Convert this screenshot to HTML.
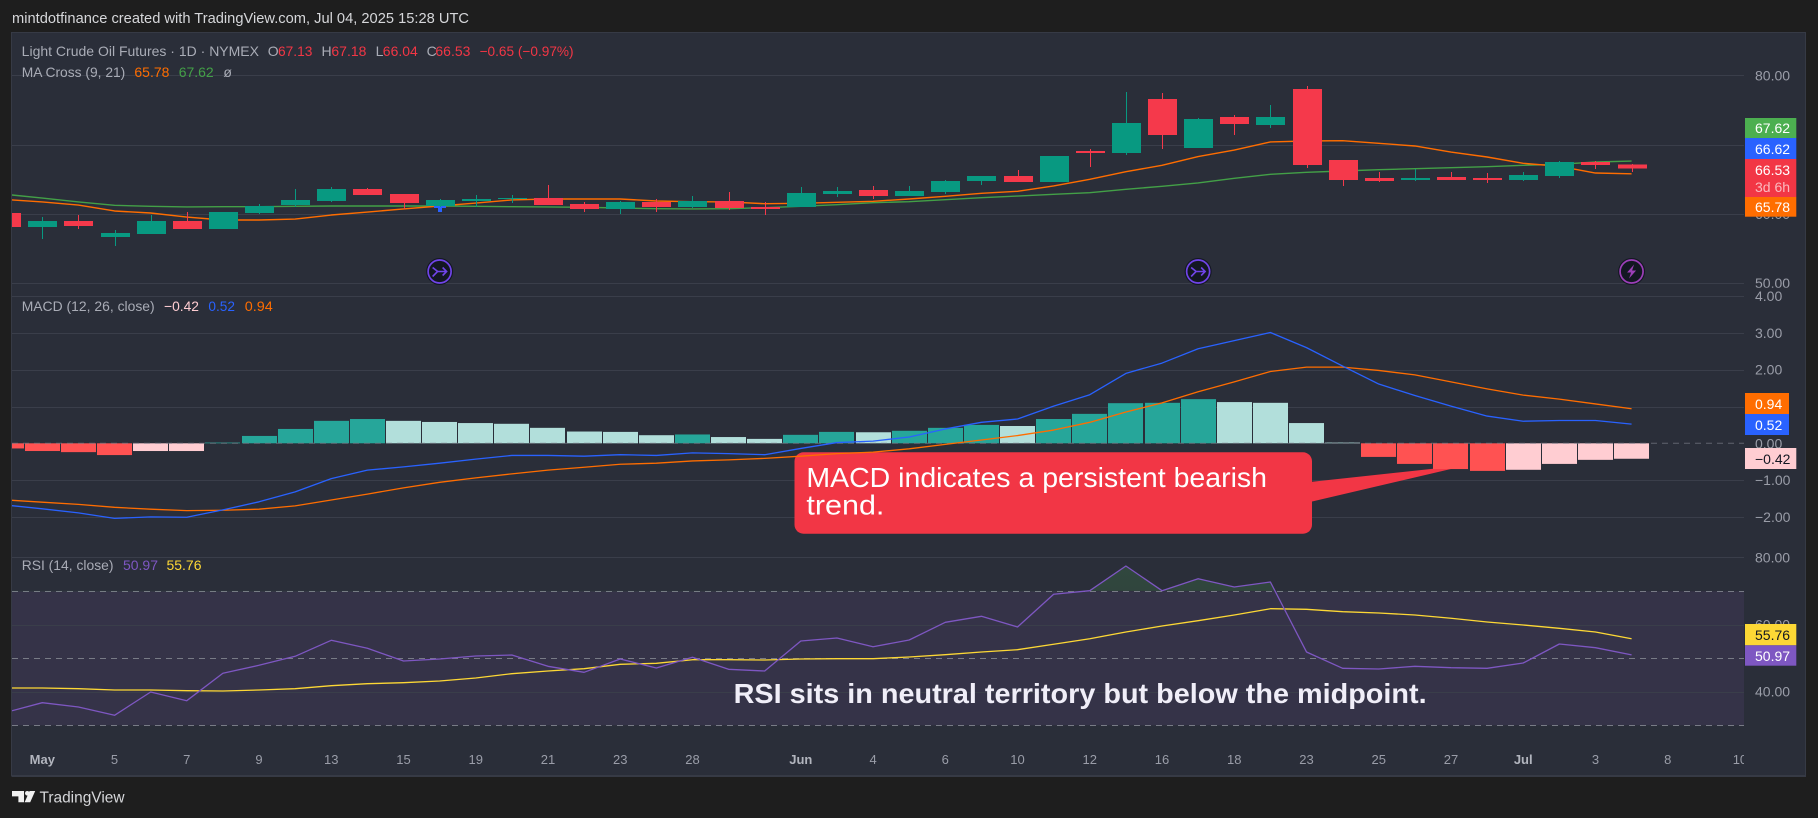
<!DOCTYPE html>
<html lang="en">
<head>
<meta charset="utf-8">
<title>Light Crude Oil Futures chart</title>
<style>
html,body{margin:0;padding:0;background:#1e1e1e;}
svg{display:block;font-family:"Liberation Sans",sans-serif;}
</style>
</head>
<body>
<svg id="chart" xmlns="http://www.w3.org/2000/svg" width="1818" height="818" viewBox="0 0 1818 818">
  <defs>
    <clipPath id="clip-main"><rect x="12" y="33" width="1732" height="263"/></clipPath>
    <clipPath id="clip-macd"><rect x="12" y="296" width="1732" height="261"/></clipPath>
    <clipPath id="clip-rsi"><rect x="12" y="557" width="1732" height="180"/></clipPath>
    <clipPath id="clip-ob"><rect x="12" y="557" width="1732" height="34.3"/></clipPath>
    <clipPath id="clip-time"><rect x="12" y="740" width="1732" height="34"/></clipPath>
    <clipPath id="clip-main-ticks"><rect x="1745" y="33" width="60" height="254.7"/></clipPath>
    <linearGradient id="ob-gradient" x1="0" y1="0" x2="0" y2="1">
      <stop offset="0" stop-color="#4caf50" stop-opacity="0.2"/>
      <stop offset="1" stop-color="#4caf50" stop-opacity="0.06"/>
    </linearGradient>
  </defs>

  <rect x="0" y="0" width="1818" height="818" fill="#1e1e1e"/>
  <text x="12" y="23" font-size="14.5" fill="#d6d7da" textLength="457" lengthAdjust="spacingAndGlyphs">mintdotfinance created with TradingView.com, Jul 04, 2025 15:28 UTC</text>

  <rect x="11.5" y="32.5" width="1794" height="743.5" fill="#2a2e39" stroke="#363a45" stroke-width="1"/>
  <rect x="12" y="775" width="1794" height="2" fill="#363a45"/>

  <!-- RSI band sits behind grid lines -->
  <rect x="12" y="591.3" width="1732" height="134" fill="#353348"/>

  <g id="grid-layer"></g>

  <g id="main-pane" clip-path="url(#clip-main)"></g>

  <g id="annotation-macd">
    <path d="M1310 482 L1468 465 L1310 502 Z" fill="#f23645"/>
    <rect x="794.5" y="452.3" width="517.5" height="81.4" rx="9" fill="#f23645"/>
    <text x="806.4" y="487" font-size="28" fill="#ffffff" textLength="460.6" lengthAdjust="spacingAndGlyphs">MACD indicates a persistent bearish</text>
    <text x="806.4" y="514.5" font-size="28" fill="#ffffff" textLength="78" lengthAdjust="spacingAndGlyphs">trend.</text>
  </g>

  <g id="macd-pane" clip-path="url(#clip-macd)"></g>
  <g id="rsi-pane" clip-path="url(#clip-rsi)"></g>

  <text x="733.6" y="703" font-size="28" font-weight="bold" fill="#f0eef8" textLength="693" lengthAdjust="spacingAndGlyphs">RSI sits in neutral territory but below the midpoint.</text>

  <g id="events-layer"></g>

  <!-- Legends -->
  <g font-size="14">
    <text x="21.7" y="56" fill="#a9acb6" textLength="237.3" lengthAdjust="spacingAndGlyphs">Light Crude Oil Futures · 1D · NYMEX</text>
    <text x="267.7" y="56" fill="#a9acb6">O</text>
    <text x="278" y="56" fill="#f23645" textLength="34.4" lengthAdjust="spacingAndGlyphs">67.13</text>
    <text x="321.5" y="56" fill="#a9acb6">H</text>
    <text x="331.4" y="56" fill="#f23645" textLength="35" lengthAdjust="spacingAndGlyphs">67.18</text>
    <text x="375.6" y="56" fill="#a9acb6">L</text>
    <text x="382.8" y="56" fill="#f23645" textLength="35" lengthAdjust="spacingAndGlyphs">66.04</text>
    <text x="426.6" y="56" fill="#a9acb6">C</text>
    <text x="435.4" y="56" fill="#f23645" textLength="35" lengthAdjust="spacingAndGlyphs">66.53</text>
    <text x="479.6" y="56" fill="#f23645" textLength="94" lengthAdjust="spacingAndGlyphs">−0.65 (−0.97%)</text>
  </g>
  <g font-size="14">
    <text x="21.7" y="77" fill="#a9acb6" textLength="103.6" lengthAdjust="spacingAndGlyphs">MA Cross (9, 21)</text>
    <text x="134.4" y="77" fill="#ff6d00" textLength="35" lengthAdjust="spacingAndGlyphs">65.78</text>
    <text x="178.7" y="77" fill="#43a047" textLength="35" lengthAdjust="spacingAndGlyphs">67.62</text>
    <text x="223.4" y="77" fill="#a9acb6">ø</text>
  </g>
  <g font-size="14">
    <text x="21.7" y="311" fill="#a9acb6" textLength="133" lengthAdjust="spacingAndGlyphs">MACD (12, 26, close)</text>
    <text x="164" y="311" fill="#ffcdd2" textLength="35" lengthAdjust="spacingAndGlyphs">−0.42</text>
    <text x="208.4" y="311" fill="#2962ff" textLength="26.6" lengthAdjust="spacingAndGlyphs">0.52</text>
    <text x="244.8" y="311" fill="#ff6d00" textLength="28" lengthAdjust="spacingAndGlyphs">0.94</text>
  </g>
  <g font-size="14">
    <text x="21.7" y="570" fill="#a9acb6" textLength="91.8" lengthAdjust="spacingAndGlyphs">RSI (14, close)</text>
    <text x="123" y="570" fill="#7e57c2" textLength="35" lengthAdjust="spacingAndGlyphs">50.97</text>
    <text x="166.5" y="570" fill="#fdd835" textLength="35" lengthAdjust="spacingAndGlyphs">55.76</text>
  </g>

  <g id="price-axis"></g>
  <g id="time-axis" clip-path="url(#clip-time)"></g>

  <!-- Last-value tags on the axes -->
  <g font-size="14">
    <rect x="1745" y="118" width="51.3" height="20" fill="#4caf50"/>
    <text x="1755" y="133" fill="#ffffff">67.62</text>
    <rect x="1745" y="138" width="51.3" height="21" fill="#2962ff"/>
    <text x="1755" y="154" fill="#ffffff">66.62</text>
    <rect x="1745" y="159" width="51.3" height="38" fill="#f23645"/>
    <text x="1755" y="175" fill="#ffffff">66.53</text>
    <text x="1755" y="192" fill="#ffffff" fill-opacity="0.65">3d 6h</text>
    <rect x="1745" y="197" width="51.3" height="19.7" fill="#ff6d00"/>
    <text x="1755" y="212" fill="#ffffff">65.78</text>

    <rect x="1745" y="393" width="44" height="21" fill="#ff6d00"/>
    <text x="1755" y="409" fill="#ffffff">0.94</text>
    <rect x="1745" y="414" width="44" height="21" fill="#2962ff"/>
    <text x="1755" y="430" fill="#ffffff">0.52</text>
    <rect x="1745" y="448" width="51.3" height="21" fill="#ffcdd2"/>
    <text x="1755" y="464" fill="#131722">−0.42</text>

    <rect x="1745" y="624" width="51.3" height="21.3" fill="#fdd835"/>
    <text x="1755" y="640" fill="#131722">55.76</text>
    <rect x="1745" y="645.3" width="51.3" height="20.4" fill="#7e57c2"/>
    <text x="1755" y="661" fill="#ffffff">50.97</text>
  </g>

  <!-- Footer logo -->
  <g>
    <path fill="#f0f0f0" d="M12 791H24V802.3H18.4V796.4H12Z M35.2 791L30.2 802.3H24.6L29.6 791Z"/>
    <circle cx="27.3" cy="793.3" r="2.3" fill="#f0f0f0"/>
    <text x="39.5" y="802.5" font-size="16" fill="#d6d7da" textLength="85" lengthAdjust="spacingAndGlyphs">TradingView</text>
  </g>
</svg>

<script>
/* ---- price data ---- */
const opens = [60.13,58.11,58.98,56.67,57.10,58.98,57.82,60.13,61.28,61.86,63.59,62.87,61.14,61.86,62.15,62.29,61.43,60.71,61.72,61.00,61.86,61.00,61.00,62.87,63.45,62.58,63.16,64.75,65.47,64.60,69.08,68.79,76.58,69.51,73.98,72.83,78.02,67.78,65.18,64.89,65.32,65.18,64.89,65.47,67.49,67.13];
const highs = [60.40,59.55,59.84,57.68,59.84,60.27,60.27,61.43,63.59,63.88,63.74,62.87,62.15,62.73,62.73,64.17,61.72,61.86,62.15,62.58,63.16,61.72,63.88,63.88,64.03,64.03,64.89,65.47,66.34,68.35,69.37,77.59,77.45,73.84,74.27,75.71,78.46,67.78,66.05,66.48,66.05,65.90,66.05,67.63,67.63,67.18];
const lows = [58.00,56.38,57.82,55.37,57.10,57.82,57.82,59.99,61.00,61.72,62.73,60.71,61.00,61.00,61.57,61.28,60.27,59.99,60.27,60.85,60.56,59.84,61.00,62.44,62.15,62.58,62.87,64.17,64.60,64.60,66.77,68.50,69.37,69.51,71.39,72.40,66.62,64.03,64.60,64.75,64.89,64.46,64.75,65.18,66.48,66.04];
const closes = [58.11,58.98,58.26,57.24,58.98,57.82,60.27,61.14,62.01,63.59,62.73,61.57,62.01,62.15,62.29,61.28,60.71,61.72,61.00,61.86,60.85,60.71,63.02,63.30,62.58,63.30,64.75,65.47,64.60,68.35,68.79,73.12,71.39,73.69,72.97,73.98,67.06,64.89,64.75,65.18,64.89,64.89,65.61,67.49,67.06,66.53];
const maFast = [62.08,61.72,61.28,60.42,60.13,59.55,59.12,59.12,59.26,59.84,60.27,60.71,61.14,61.57,62.01,62.15,62.15,62.15,61.86,61.76,61.72,61.47,61.53,61.67,61.82,62.15,62.54,62.97,63.26,64.03,64.99,66.09,67.01,68.28,69.22,70.38,70.52,70.56,70.19,69.80,68.93,68.21,67.30,66.87,65.90,65.78];
const maSlow = [62.81,62.29,61.72,61.24,61.10,61.00,61.04,61.04,61.10,61.14,61.14,61.14,61.14,61.10,61.04,61.00,60.95,60.85,60.75,60.71,60.75,60.90,61.10,61.33,61.62,61.76,62.05,62.34,62.58,62.83,63.06,63.55,63.98,64.46,65.14,65.71,66.00,66.19,66.38,66.52,66.67,66.81,67.01,67.16,67.49,67.62];
const crossBars = [12];
const crossPrices = [61.14];
const mergeEventBars = [12,33];
const boltEventBars = [45];

/* ---- MACD data ---- */
const macdHistogram = [-0.14,-0.21,-0.24,-0.32,-0.21,-0.21,0.02,0.20,0.39,0.61,0.66,0.61,0.58,0.55,0.53,0.42,0.32,0.31,0.22,0.24,0.17,0.12,0.23,0.31,0.30,0.34,0.42,0.50,0.47,0.66,0.80,1.09,1.10,1.20,1.12,1.10,0.55,0.02,-0.37,-0.56,-0.70,-0.75,-0.72,-0.56,-0.45,-0.42];
const macdLine = [-1.68,-1.78,-1.89,-2.04,-2.00,-2.01,-1.81,-1.59,-1.32,-0.96,-0.73,-0.64,-0.54,-0.43,-0.33,-0.33,-0.35,-0.31,-0.33,-0.26,-0.28,-0.31,-0.14,0.02,0.06,0.17,0.39,0.57,0.66,1.01,1.32,1.90,2.18,2.57,2.79,3.01,2.60,2.10,1.61,1.30,1.01,0.74,0.60,0.62,0.62,0.52];
const macdSignal = [-1.54,-1.60,-1.66,-1.74,-1.79,-1.83,-1.82,-1.79,-1.70,-1.54,-1.38,-1.21,-1.06,-0.94,-0.83,-0.73,-0.65,-0.57,-0.54,-0.48,-0.45,-0.41,-0.35,-0.28,-0.24,-0.15,-0.03,0.09,0.21,0.36,0.57,0.85,1.10,1.40,1.67,1.95,2.07,2.07,1.98,1.86,1.67,1.48,1.31,1.20,1.07,0.94];

/* ---- RSI data ---- */
const rsiLine = [33.87,36.73,35.45,32.98,39.91,37.32,45.48,47.86,50.54,55.30,52.92,49.14,49.73,50.62,50.92,47.56,45.77,49.73,47.05,50.24,46.67,46.16,55.09,55.98,53.39,55.39,60.65,62.44,59.26,68.99,70.06,77.41,70.06,73.63,71.16,72.65,51.82,46.96,46.76,47.56,47.14,46.96,48.54,54.20,53.10,50.97];
const rsiMa = [41.10,41.10,40.89,40.51,40.51,40.30,40.21,40.51,40.89,41.79,42.38,42.68,43.18,44.08,45.36,46.16,46.85,48.15,48.45,49.52,49.52,49.43,49.73,49.82,49.82,50.33,51.01,51.82,52.50,54.11,55.77,57.77,59.55,61.13,62.83,64.70,64.52,63.81,63.42,62.83,61.85,60.74,59.85,58.87,57.77,55.76];

/* ---- tick labels ---- */
const priceTicks = [80,70,60,50];
const macdTicks = [4,3,2,1,0,-1,-2];
const rsiSolidTicks = [80,60,40];
const rsiDashedLevels = [70,50,30];
const timeLabels = ["May","5","7","9","13","15","19","21","23","28","Jun","4","6","10","12","16","18","23","25","27","Jul","3","8","10"];
const timeBars = [1,3,5,7,9,11,13,15,17,19,22,24,26,28,30,32,34,36,38,40,42,44,46,48];

/* ---- axis functions ---- */
const NS = 'http://www.w3.org/2000/svg';
const xBar = i => 6.18 + 36.12 * i;
const yPrice = p => 75.3 + (80 - p) * 6.93;
const yMacd = v => 443.3 - 36.8 * v;
const yRsi = v => 557.3 + (80 - v) * 3.36;
const fmtTick = v => (v < 0 ? '\u2212' : '') + Math.abs(v).toFixed(2);
const GRID = '#3a3e4a';
const mk = tag => document.createElementNS(NS, tag);
const pts = (arr, yFn) => arr.map((v, i) => xBar(i).toFixed(2) + ',' + yFn(v).toFixed(2)).join(' ');

const gridLayer = document.getElementById('grid-layer');
const mainPane = document.getElementById('main-pane');
const macdPane = document.getElementById('macd-pane');
const rsiPane = document.getElementById('rsi-pane');
const priceAxis = document.getElementById('price-axis');
const timeAxis = document.getElementById('time-axis');
const eventsLayer = document.getElementById('events-layer');

function addGridLine(y) {
  const el = mk('line');
  
  
  el.setAttribute('x1', 12);
  el.setAttribute('x2', 1744);
  el.setAttribute('y1', Math.round(y) + 0.5);
  el.setAttribute('y2', Math.round(y) + 0.5);
  el.setAttribute('stroke', GRID);
  gridLayer.appendChild(el);
}
function addTickLabel(y, label, parent) {
  const el = mk('text');
  
  
  el.setAttribute('x', 1755);
  el.setAttribute('y', y + 5);
  el.setAttribute('font-size', 14);
  el.setAttribute('fill', '#9a9da8');
  el.textContent = label;
  parent.appendChild(el);
}
function addLine(parent, arr, yFn, color, width, name) {
  const el = mk('polyline');
  
  
  el.setAttribute('points', pts(arr, yFn));
  el.setAttribute('fill', 'none');
  el.setAttribute('stroke', color);
  el.setAttribute('stroke-width', width);
  el.setAttribute('stroke-linejoin', 'round');
  parent.appendChild(el);
}

/* grid and price-axis ticks */
const mainTickGroup = mk('g');


mainTickGroup.setAttribute('clip-path', 'url(#clip-main-ticks)');
priceAxis.appendChild(mainTickGroup);
priceTicks.forEach(t => {
  addGridLine(yPrice(t));
  addTickLabel(yPrice(t), t.toFixed(2), mainTickGroup);
});
macdTicks.forEach(t => {
  if (t !== 0) addGridLine(yMacd(t));
  addTickLabel(yMacd(t), fmtTick(t), priceAxis);
});
rsiSolidTicks.forEach(t => {
  addGridLine(yRsi(t));
  addTickLabel(yRsi(t), t.toFixed(2), priceAxis);
});

/* RSI dashed levels */
rsiDashedLevels.forEach(level => {
  const el = mk('line');
  
  
  el.setAttribute('x1', 12);
  el.setAttribute('x2', 1744);
  el.setAttribute('y1', Math.round(yRsi(level)) + 0.5);
  el.setAttribute('y2', Math.round(yRsi(level)) + 0.5);
  el.setAttribute('stroke', '#787b86');
  el.setAttribute('stroke-dasharray', '6 5');
  gridLayer.appendChild(el);
});

/* moving averages sit beneath the candles */
addLine(mainPane, maSlow, yPrice, '#43a047', 1.4, 'ma-slow-line');
addLine(mainPane, maFast, yPrice, '#ff6d00', 1.4, 'ma-fast-line');

/* cross markers */
crossBars.forEach((bar, k) => {
  const cx = Math.round(xBar(bar));
  const cy = yPrice(crossPrices[k]);
  const h = mk('rect');
  
  
  h.setAttribute('x', cx - 6);
  h.setAttribute('y', cy);
  h.setAttribute('width', 12);
  h.setAttribute('height', 2);
  h.setAttribute('fill', '#2962ff');
  mainPane.appendChild(h);
  const v = mk('rect');
  
  
  v.setAttribute('x', cx - 2);
  v.setAttribute('y', cy - 6);
  v.setAttribute('width', 4);
  v.setAttribute('height', 12);
  v.setAttribute('fill', '#2962ff');
  mainPane.appendChild(v);
});

/* candles */
closes.forEach((c, i) => {
  const o = opens[i];
  const color = c >= o ? '#089981' : '#f5394b';
  const xc = xBar(i);
  const wick = mk('rect');
  
  
  wick.setAttribute('x', Math.round(xc));
  wick.setAttribute('y', yPrice(highs[i]));
  wick.setAttribute('width', 1);
  wick.setAttribute('height', Math.max(1, yPrice(lows[i]) - yPrice(highs[i])));
  wick.setAttribute('fill', color);
  wick.setAttribute('shape-rendering', 'crispEdges');
  mainPane.appendChild(wick);
  const body = mk('rect');
  
  
  body.setAttribute('x', Math.round(xc - 14));
  body.setAttribute('y', yPrice(Math.max(o, c)));
  body.setAttribute('width', 29);
  body.setAttribute('height', Math.max(1, Math.abs(yPrice(o) - yPrice(c))));
  body.setAttribute('fill', color);
  body.setAttribute('shape-rendering', 'crispEdges');
  mainPane.appendChild(body);
});

/* MACD histogram */
macdHistogram.forEach((v, i) => {
  const prev = i > 0 ? macdHistogram[i - 1] : Infinity;
  let color;
  if (v >= 0) color = v > prev || i === 0 ? '#26a69a' : '#b2dfdb';
  else color = v < prev ? '#ff5252' : '#ffcdd2';
  const y0 = yMacd(0);
  const yv = yMacd(v);
  const el = mk('rect');
  
  
  el.setAttribute('x', Math.round(xBar(i) - 17.5));
  el.setAttribute('y', Math.min(y0, yv));
  el.setAttribute('width', 35);
  el.setAttribute('height', Math.max(0.7, Math.abs(yv - y0)));
  el.setAttribute('fill', color);
  macdPane.appendChild(el);
});
const zeroLine = mk('line');


zeroLine.setAttribute('x1', 12);
zeroLine.setAttribute('x2', 1744);
zeroLine.setAttribute('y1', yMacd(0));
zeroLine.setAttribute('y2', yMacd(0));
zeroLine.setAttribute('stroke', '#787b86');
zeroLine.setAttribute('stroke-opacity', '0.7');
zeroLine.setAttribute('stroke-dasharray', '6 5');
macdPane.appendChild(zeroLine);
addLine(macdPane, macdSignal, yMacd, '#ff6d00', 1.3, 'macd-signal-line');
addLine(macdPane, macdLine, yMacd, '#2962ff', 1.3, 'macd-line');

/* RSI */
const obFill = mk('polygon');


obFill.setAttribute('points', xBar(0) + ',' + yRsi(70) + ' ' + pts(rsiLine, yRsi) + ' ' + xBar(rsiLine.length - 1) + ',' + yRsi(70));
obFill.setAttribute('fill', 'url(#ob-gradient)');
obFill.setAttribute('clip-path', 'url(#clip-ob)');
rsiPane.appendChild(obFill);
addLine(rsiPane, rsiMa, yRsi, '#fdd835', 1.3, 'rsi-ma-line');
addLine(rsiPane, rsiLine, yRsi, '#7e57c2', 1.3, 'rsi-line');

/* time axis */
timeLabels.forEach((label, i) => {
  const el = mk('text');
  
  
  el.setAttribute('x', xBar(timeBars[i]));
  el.setAttribute('y', 764);
  el.setAttribute('text-anchor', 'middle');
  el.setAttribute('font-size', 13);
  const isMonth = /[A-Za-z]/.test(label);
  el.setAttribute('fill', isMonth ? '#b2b5be' : '#9a9da8');
  if (isMonth) el.setAttribute('font-weight', 'bold');
  el.textContent = label;
  timeAxis.appendChild(el);
});

/* event markers */
function addEventBadge(bar, ring) {
  const g = mk('g');
  
  
  g.setAttribute('transform', 'translate(' + xBar(bar).toFixed(2) + ',271.5)');
  const outer = mk('circle');
  
  
  outer.setAttribute('r', 13.5);
  outer.setAttribute('fill', '#131722');
  g.appendChild(outer);
  const inner = mk('circle');
  
  
  inner.setAttribute('r', 11.5);
  inner.setAttribute('fill', 'none');
  inner.setAttribute('stroke', ring);
  inner.setAttribute('stroke-width', 1.7);
  g.appendChild(inner);
  eventsLayer.appendChild(g);
  return g;
}
mergeEventBars.forEach(bar => {
  const g = addEventBadge(bar, '#7044e8');
  const icon = mk('path');
  
  
  icon.setAttribute('d', 'M-7 -4 L-2 0 L-7 5 M-2 0 H7 M3 -4 L7 0 L3 4');
  icon.setAttribute('fill', 'none');
  icon.setAttribute('stroke', '#7044e8');
  icon.setAttribute('stroke-width', 1.6);
  g.appendChild(icon);
});
boltEventBars.forEach(bar => {
  const g = addEventBadge(bar, '#9c3fb8');
  const icon = mk('path');
  
  
  icon.setAttribute('d', 'M2.5 -7 L-4.5 1 H-0.5 L-2.5 7 L4.5 -1 H0.5 Z');
  icon.setAttribute('fill', '#9c3fb8');
  g.appendChild(icon);
});
</script>
</body>
</html>
